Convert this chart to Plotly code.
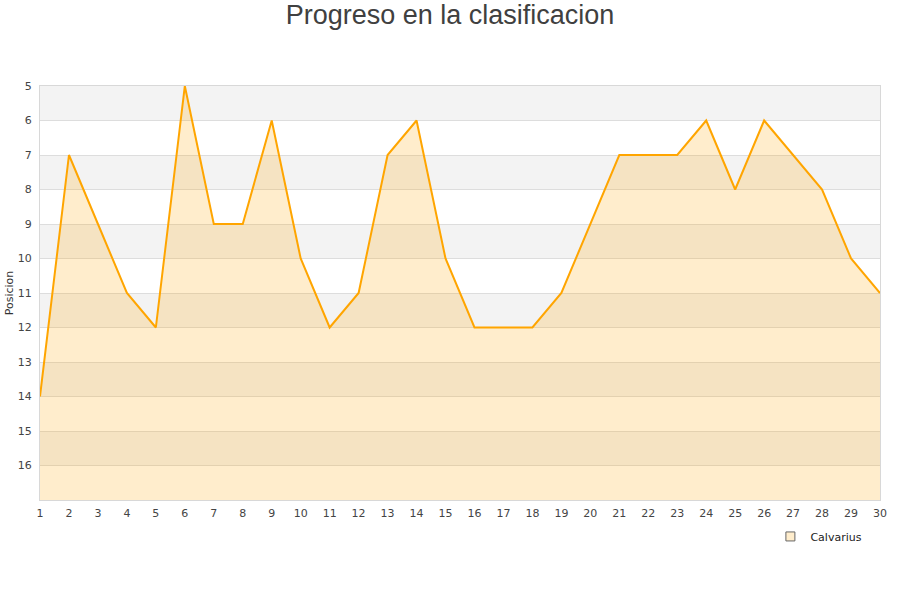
import plotly.graph_objects as go

jornadas = list(range(1, 31))
posiciones = [14, 7, 9, 11, 12, 5, 9, 9, 6, 10, 12, 11, 7, 6, 10,
              12, 12, 12, 11, 9, 7, 7, 7, 6, 8, 6, 7, 8, 10, 11]
equipo = "Calvarius"
y_ticks = list(range(5, 17))

fig = go.Figure()

# alternating bands
for lo in range(5, 17, 2):
    fig.add_shape(type="rect", xref="paper", yref="y", x0=0, x1=1, y0=lo, y1=lo + 1,
                  fillcolor="#f3f3f3", line_width=0, layer="below")

fig.add_trace(go.Scatter(x=jornadas, y=[17] * len(jornadas), mode="lines",
                         line=dict(width=0), showlegend=False, hoverinfo="skip"))
fig.add_trace(go.Scatter(x=jornadas, y=posiciones, mode="lines", name=equipo,
                         fill="tonexty", fillcolor="rgba(255,165,0,0.2)",
                         line=dict(color="#ffa500", width=2), showlegend=False))
# legend entry
fig.add_trace(go.Scatter(x=[None], y=[None], mode="markers", name=equipo,
                         marker=dict(symbol="square", size=9, color="#ffedcc",
                                     line=dict(color="#666", width=1))))

fig.update_layout(
    width=900, height=600,
    paper_bgcolor="white", plot_bgcolor="rgba(0,0,0,0)",
    title=dict(text="Progreso en la clasificacion", x=0.5, xanchor="center", y=0.975, yanchor="middle",
               font=dict(family="Liberation Sans, Arial", size=27, color="#404040")),
    margin=dict(l=40, r=20, t=86, b=100, autoexpand=False),
    font=dict(family="DejaVu Sans", size=11, color="#444"),
    showlegend=True,
    legend=dict(x=0.985, y=-0.053, xanchor="right", yanchor="top", bgcolor="rgba(0,0,0,0)",
                font=dict(size=11, color="#222"), itemwidth=30),
)
fig.update_xaxes(range=[1, 30], tickmode="array", tickvals=jornadas, ticks="",
                 showgrid=False, zeroline=False, showline=True, linecolor="#d8d8d8",
                 mirror=True, tickfont=dict(size=11, color="#444"), automargin=False,
                 ticklabelstandoff=3)
fig.update_yaxes(range=[17, 5], tickmode="array", tickvals=y_ticks, ticks="",
                 showgrid=True, gridcolor="#dddddd", zeroline=False, showline=True,
                 linecolor="#d8d8d8", mirror=True, automargin=False,
                 ticklabelstandoff=5,
                 title=dict(text="Posicion", font=dict(size=11, color="#333"), standoff=1),
                 tickfont=dict(size=11, color="#444"))

fig.write_html("out.html", post_script="document.body.style.margin='0';",
               config={"displayModeBar": False})
